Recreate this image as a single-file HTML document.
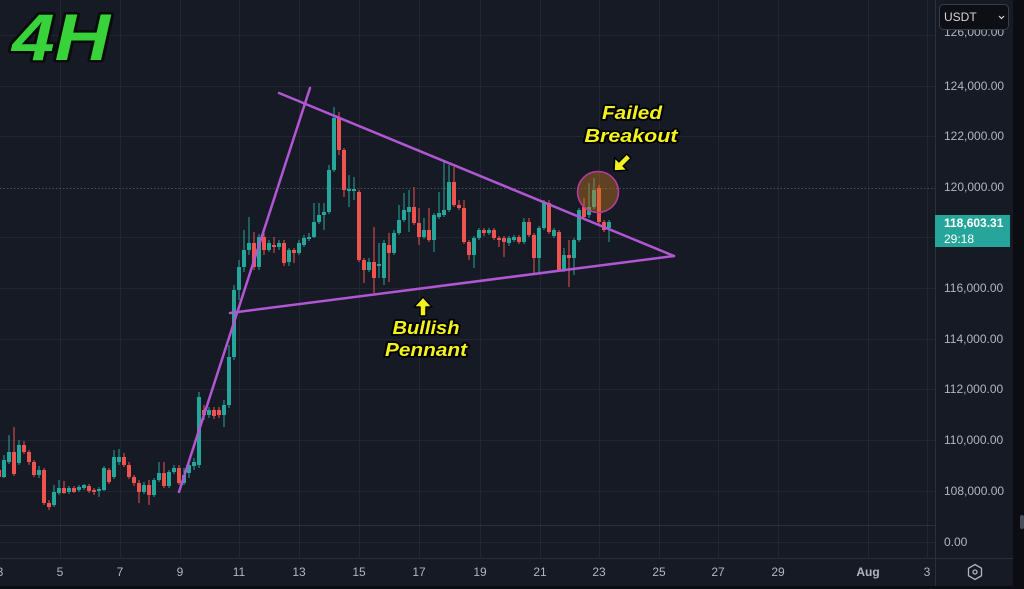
<!DOCTYPE html>
<html><head><meta charset="utf-8"><style>
html,body{margin:0;padding:0;background:#161a25;}
body{width:1024px;height:589px;overflow:hidden;}
svg{display:block;}
</style></head><body>
<svg width="1024" height="589" viewBox="0 0 1024 589" xmlns="http://www.w3.org/2000/svg" font-family="'Liberation Sans', sans-serif">
<rect width="1024" height="589" fill="#161a25"/>
<!-- grid -->
<g stroke="#222632" stroke-width="1">
<path d="M0 35.5H935M0 86.5H935M0 136.5H935M0 237.5H935M0 288.5H935M0 339.5H935M0 389.5H935M0 440.5H935M0 491.5H935M0 542.5H935"/>
<path d="M60.5 0V558M120.5 0V558M180.5 0V558M239.5 0V558M299.5 0V558M359.5 0V558M419.5 0V558M480.5 0V558M540.5 0V558M599.5 0V558M659.5 0V558M718.5 0V558M778.5 0V558M868.5 0V558M927.5 0V558"/>
</g>
<path d="M0 188.5H935" stroke="#4a4e5a" stroke-width="1" stroke-dasharray="1.5 2"/>
<path d="M0 525.5H935M0 558.5H1013" stroke="#2b2f3b" stroke-width="1"/>
<path d="M935.5 0V586" stroke="#2b2f3b" stroke-width="1"/>
<rect x="1013" y="0" width="11" height="589" fill="#0b0d12"/>
<rect x="0" y="586" width="1024" height="3" fill="#0b0d12"/>
<rect x="1020" y="515" width="4" height="14" rx="2" fill="#4a4e58"/>

<!-- candles teal -->
<path stroke="#26a69a" stroke-width="1" fill="none" d="M4 455V478M9 435V464M19 440V465M39 466V478M54 485V507M59 480V495M69 486V494M79 485V492M84 484V490M99 487V497M104 466V491M114 450V479M119 449V465M144 482V494M154 478V497M159 462V482M169 470V488M174 465V474M184 468V485M189 462V478M194 458V470M199 392V468M209 407V418M224 400V427M229 345V408M234 285V360M239 260V300M244 230V272M249 217V255M259 234V270M269 240V252M279 240V250M289 248V266M299 240V255M304 235V247M309 233V241M314 203V238M319 203V224M324 203V230M329 165V214M334 107V172M349 175V207M354 177V200M369 258V272M379 243V278M384 240V285M394 230V255M399 205V235M404 193V222M409 190V232M424 218V239M434 213V252M439 192V219M444 162V217M449 165V212M474 236V268M479 228V240M489 228V235M509 236V246M514 235V242M524 218V244M539 226V272M544 200V230M554 228V238M564 248V272M574 238V275M579 208V242M589 183V218M594 178V209M609 220V242"/>
<path fill="#26a69a" d="M2 460h4v17h-4zM7 452h4v10h-4zM17 445h4v18h-4zM37 470h4v5h-4zM52 492h4v13h-4zM57 488h4v5h-4zM67 488h4v4h-4zM77 487h4v3h-4zM82 485h4v3h-4zM97 489h4v2h-4zM102 468h4v22h-4zM112 457h4v20h-4zM117 457h4v5h-4zM142 485h4v7h-4zM152 480h4v15h-4zM157 473h4v7h-4zM167 472h4v14h-4zM172 468h4v4h-4zM182 475h4v8h-4zM187 465h4v8h-4zM192 462h4v4h-4zM197 397h4v68h-4zM207 410h4v5h-4zM222 405h4v10h-4zM227 357h4v48h-4zM232 290h4v67h-4zM237 267h4v23h-4zM242 250h4v17h-4zM247 243h4v7h-4zM257 237h4v30h-4zM267 243h4v7h-4zM277 243h4v4h-4zM287 250h4v12h-4zM297 243h4v10h-4zM302 238h4v7h-4zM307 237h4v2h-4zM312 222h4v15h-4zM317 215h4v7h-4zM322 212h4v3h-4zM327 170h4v42h-4zM332 118h4v52h-4zM347 189h4v2h-4zM352 189h4v2h-4zM367 262h4v8h-4zM377 264h4v2h-4zM382 243h4v35h-4zM392 233h4v20h-4zM397 220h4v13h-4zM402 210h4v10h-4zM407 207h4v5h-4zM422 230h4v7h-4zM432 215h4v25h-4zM437 213h4v4h-4zM442 210h4v5h-4zM447 182h4v28h-4zM472 238h4v17h-4zM477 230h4v8h-4zM487 230h4v3h-4zM507 238h4v5h-4zM512 237h4v3h-4zM522 222h4v20h-4zM537 228h4v30h-4zM542 203h4v25h-4zM552 230h4v6h-4zM562 255h4v15h-4zM572 240h4v18h-4zM577 210h4v30h-4zM587 207h4v8h-4zM592 190h4v17h-4zM607 222h4v6h-4z"/>
<!-- candles red -->
<path stroke="#ef5350" stroke-width="1" fill="none" d="M-1 466V480M14 427V476M24 441V454M29 450V465M34 460V477M44 468V505M49 500V510M64 481V494M74 486V493M89 484V493M94 488V495M109 468V484M124 453V467M129 462V479M134 475V486M139 480V503M149 480V505M164 462V488M179 465V485M204 405V420M214 407V419M219 407V418M254 232V270M264 233V255M274 237V253M284 240V266M294 248V263M339 112V155M344 148V197M359 190V262M364 258V283M374 227V293M389 233V282M414 187V225M419 208V245M429 208V242M454 167V207M459 200V210M464 200V244M469 240V260M484 228V236M494 228V240M499 236V247M504 236V257M519 235V244M529 218V237M534 233V275M549 200V234M559 230V272M569 240V287M584 198V220M599 185V224M604 220V232"/>
<path fill="#ef5350" d="M-3 470h4v7h-4zM12 452h4v22h-4zM22 445h4v7h-4zM27 452h4v10h-4zM32 462h4v13h-4zM42 470h4v33h-4zM47 503h4v4h-4zM62 488h4v5h-4zM72 488h4v4h-4zM87 486h4v5h-4zM92 490h4v2h-4zM107 470h4v12h-4zM122 457h4v8h-4zM127 465h4v12h-4zM132 477h4v6h-4zM137 483h4v9h-4zM147 485h4v10h-4zM162 473h4v13h-4zM177 468h4v15h-4zM202 410h4v5h-4zM212 410h4v6h-4zM217 410h4v5h-4zM252 243h4v24h-4zM262 237h4v13h-4zM272 245h4v2h-4zM282 243h4v20h-4zM292 250h4v3h-4zM337 118h4v32h-4zM342 150h4v40h-4zM357 192h4v68h-4zM362 260h4v10h-4zM372 262h4v16h-4zM387 245h4v8h-4zM412 207h4v16h-4zM417 223h4v14h-4zM427 230h4v10h-4zM452 182h4v23h-4zM457 205h4v3h-4zM462 208h4v34h-4zM467 242h4v13h-4zM482 230h4v3h-4zM492 230h4v8h-4zM497 238h4v2h-4zM502 238h4v4h-4zM517 237h4v5h-4zM527 222h4v13h-4zM532 235h4v23h-4zM547 203h4v29h-4zM557 232h4v38h-4zM567 255h4v3h-4zM582 207h4v10h-4zM597 188h4v34h-4zM602 222h4v8h-4z"/>

<!-- trend lines -->
<g stroke="#b257d4" stroke-width="2.5" stroke-linecap="round" fill="none">
<line x1="279" y1="93" x2="674" y2="256"/>
<line x1="230" y1="313" x2="674" y2="256"/>
<line x1="179" y1="492" x2="310" y2="88"/>
</g>
<circle cx="598" cy="192" r="20.5" fill="rgba(200,120,30,0.42)" stroke="#b43c9c" stroke-width="1.6"/>

<!-- arrows -->
<g fill="#f4f21c" stroke="#000" stroke-width="1.5" stroke-linejoin="round">
<path transform="translate(423,297)" d="M0 0L9 10H3V19H-3V10H-9Z"/>
<path transform="translate(614,171) rotate(225)" d="M0 0L9 10H3V21H-3V10H-9Z"/>
</g>

<!-- annotation text -->
<g font-weight="bold" font-style="italic" font-size="18" fill="#f4f21c" stroke="#000" stroke-width="3.5" paint-order="stroke" stroke-linejoin="round" text-anchor="middle">
<text x="632" y="119" textLength="60" lengthAdjust="spacingAndGlyphs">Failed</text>
<text x="631" y="142" textLength="93" lengthAdjust="spacingAndGlyphs">Breakout</text>
<text x="426" y="334" textLength="67" lengthAdjust="spacingAndGlyphs">Bullish</text>
<text x="426" y="356" textLength="82" lengthAdjust="spacingAndGlyphs">Pennant</text>
</g>

<!-- 4H -->
<text x="12" y="60" font-size="66" font-weight="bold" font-style="italic" fill="#38d23a" stroke="#0a0c0a" stroke-width="5" paint-order="stroke" stroke-linejoin="round" textLength="98" lengthAdjust="spacingAndGlyphs">4H</text>

<!-- price axis labels -->
<g font-size="12" fill="#b2b5be">
<text x="944" y="36">126,000.00</text>
<text x="944" y="90">124,000.00</text>
<text x="944" y="140">122,000.00</text>
<text x="944" y="191">120,000.00</text>
<text x="944" y="292">116,000.00</text>
<text x="944" y="343">114,000.00</text>
<text x="944" y="393">112,000.00</text>
<text x="944" y="444">110,000.00</text>
<text x="944" y="495">108,000.00</text>
<text x="944" y="546">0.00</text>
</g>
<rect x="935" y="215" width="75" height="32" fill="#26a69a"/>
<text x="944" y="227" font-size="12" font-weight="bold" fill="#ffffff">118,603.31</text>
<text x="944" y="243" font-size="12" fill="#ffffff">29:18</text>

<!-- USDT box -->
<rect x="939.5" y="4.5" width="69" height="25" rx="4" fill="#0d0f15" stroke="#3a3e49"/>
<text x="944" y="21" font-size="12" fill="#d1d4dc">USDT</text>
<path d="M999 16l2.5 2.5 2.5-2.5" stroke="#d1d4dc" stroke-width="1.2" fill="none"/>

<!-- time axis -->
<g font-size="12" fill="#b2b5be" text-anchor="middle">
<text x="0" y="576">3</text>
<text x="60" y="576">5</text>
<text x="120" y="576">7</text>
<text x="180" y="576">9</text>
<text x="239" y="576">11</text>
<text x="299" y="576">13</text>
<text x="359" y="576">15</text>
<text x="419" y="576">17</text>
<text x="480" y="576">19</text>
<text x="540" y="576">21</text>
<text x="599" y="576">23</text>
<text x="659" y="576">25</text>
<text x="718" y="576">27</text>
<text x="778" y="576">29</text>
<text x="868" y="576" font-weight="bold">Aug</text>
<text x="927" y="576">3</text>
</g>
<!-- settings icon -->
<path d="M975 564.5l6.5 3.75v7.5L975 579.5l-6.5-3.75v-7.5z" fill="none" stroke="#b2b5be" stroke-width="1.3"/>
<circle cx="975" cy="572" r="2" fill="none" stroke="#b2b5be" stroke-width="1.3"/>
</svg>
</body></html>
